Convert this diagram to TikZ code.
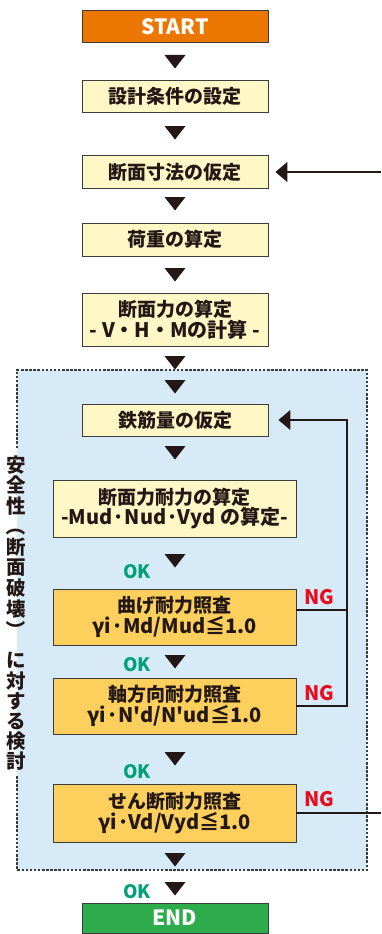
\documentclass[tikz,border=0pt]{standalone}
\usepackage{fontspec}
\setmainfont{Noto Sans CJK JP}
\usetikzlibrary{arrows.meta}
\definecolor{ink}{HTML}{231815}
\definecolor{startc}{HTML}{EC7700}
\definecolor{endc}{HTML}{2EAB4B}
\definecolor{paleyel}{HTML}{FFF8C6}
\definecolor{gold}{HTML}{FDD05E}
\definecolor{bluebg}{HTML}{D6EAF8}
\definecolor{okc}{HTML}{00A078}
\definecolor{ngc}{HTML}{E60E1E}
\definecolor{edge}{HTML}{3C3C3C}
\newcommand\latline{\fontsize{20}{20}\selectfont}
\tikzset{
  box/.style={draw=edge, line width=0.9pt, minimum width=186pt, inner sep=0pt, align=center,
    text=ink, font=\fontsize{19}{20.5}\selectfont\bfseries},
  stepbox/.style={box, fill=paleyel},
  chkbox/.style={box, fill=gold, minimum width=243pt},
  termbox/.style={box, text=white, minimum height=32pt, font=\fontsize{21}{22}\selectfont\bfseries},
  conn/.style={draw=ink, line width=1.3pt},
  tip/.style={-{Triangle[length=12pt,width=20pt]}},
  oklab/.style={text=okc, font=\fontsize{18.5}{20}\selectfont\bfseries, inner sep=0pt},
  nglab/.style={text=ngc, font=\fontsize{20}{20}\selectfont\bfseries, inner sep=0pt},
  vtext/.style={text=ink, font=\fontsize{19.5}{20}\selectfont\bfseries, inner sep=0pt},
  tricol/.style={fill=ink}
}
\newcommand\downtri[1]{\fill[tricol] (164.5,#1) -- (185.5,#1) -- (175,{#1+13.5}) -- cycle;}
\begin{document}
\begin{tikzpicture}[x=1pt,y=-1pt]
\useasboundingbox (0,0) rectangle (381,934);
% safety-check region
\fill[bluebg] (17,370) rectangle (367,870);
\draw[edge, line width=1.3pt, dash pattern=on 2.5pt off 1.6pt]
  (17,448) -- (17,370) -- (367,370) -- (367,870) -- (17,870) -- (17,776);
% boxes
\node[termbox, fill=startc] (start) at (175,26.5) {START};
\node[stepbox, minimum height=32pt] (b2) at (175,96) {設計条件の設定};
\node[stepbox, minimum height=33pt] (b3) at (175,172) {断面寸法の仮定};
\node[stepbox, minimum height=33pt] (b4) at (175,239.5) {荷重の算定};
\node[stepbox, minimum height=53pt] (b5) at (175,319.5) {断面力の算定\\{\latline - V・H・Mの計算 -}};
\node[stepbox, minimum height=32pt] (b6) at (175,420) {鉄筋量の仮定};
\node[stepbox, minimum width=243pt, minimum height=57pt] (b7) at (174.5,508.5) {断面力耐力の算定\\{\latline -Mud·Nud·Vyd の算定-}};
\node[chkbox, minimum height=56pt] (b8) at (174.5,617) {曲げ耐力照査\\{\latline γi·Md/Mud≦1.0}};
\node[chkbox, minimum height=56pt] (b9) at (174.5,706) {軸方向耐力照査\\{\latline γi·N\textquotesingle d/N\textquotesingle ud≦1.0}};
\node[chkbox, minimum height=58pt] (b10) at (174.5,813) {せん断耐力照査\\{\latline γi·Vd/Vyd≦1.0}};
\node[termbox, fill=endc, minimum height=30pt] (end) at (175,918) {END};
% flow triangles
\foreach \ty in {55,126,197,268,356,380,446,554,655,752,853,882} {\downtri{\ty}}
% connectors
\coordinate (inR) at (381,172);
\coordinate (outR) at (381,813);
\coordinate (lx) at (347,0);
\coordinate (b8o) at ([yshift=7pt]b8.east);
\draw[conn, tip, shorten >=7pt] (inR) -- (b3.east);
\draw[conn] (b10.east) -- (outR);
\draw[conn] (b8o) -- (b8o -| lx);
\draw[conn, tip, shorten >=10pt] (b9.east) -| (lx |- b6.east) -- (b6.east);
% labels
\node[oklab] (ok1) at (137,572) {OK};
\node[oklab] (ok2) at (137,665) {OK};
\node[oklab] (ok3) at (137,772) {OK};
\node[oklab] (ok4) at (137,892) {OK};
\node[nglab] (ng1) at (319,597) {NG};
\node[nglab] (ng2) at (319,693) {NG};
\node[nglab] (ng3) at (319,799) {NG};
% vertical caption
\foreach \c/\yy [count=\i] in {安/465,全/485,性/506,断/547,面/568,破/588,壊/609,に/660,対/681,す/701,る/721,検/741,討/761}
  {\node[vtext] (v\i) at (16,\yy) {\c};}
\node[vtext, rotate=-90] (vpl) at (16,526) {（};
\node[vtext, rotate=-90] (vpr) at (16,630) {）};
\end{tikzpicture}
\end{document}
